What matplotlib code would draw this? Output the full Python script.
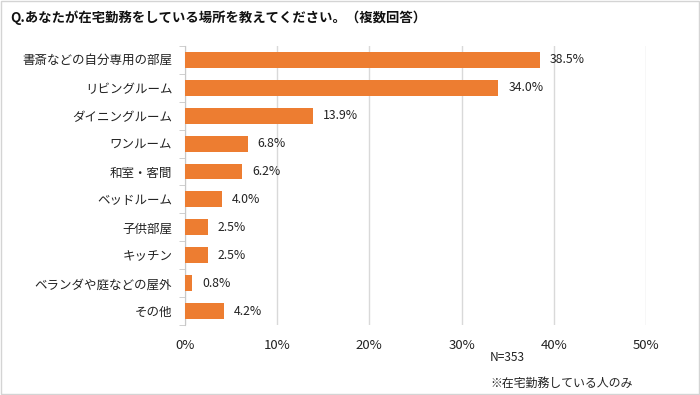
import matplotlib
matplotlib.use("Agg")
import matplotlib.pyplot as plt
from matplotlib.patches import Rectangle

plt.rcParams['font.family'] = ['Noto Sans CJK JP', 'DejaVu Sans']

categories = ["書斎などの自分専用の部屋", "リビングルーム", "ダイニングルーム", "ワンルーム",
              "和室・客間", "ベッドルーム", "子供部屋", "キッチン", "ベランダや庭などの屋外", "その他"]
values = [38.5, 34.0, 13.9, 6.8, 6.2, 4.0, 2.5, 2.5, 0.8, 4.2]
xticks = [0, 10, 20, 30, 40, 50]
xticklabels = ["0%", "10%", "20%", "30%", "40%", "50%"]
title = "Q.あなたが在宅勤務をしている場所を教えてください。（複数回答）"
note_n = "N=353"
note_scope = "※在宅勤務している人のみ"

fig = plt.figure(figsize=(7, 3.95), dpi=100)
fig.patches.append(Rectangle((0.002, 0.003), 0.996, 0.994, transform=fig.transFigure,
                             fill=False, edgecolor='#d4d4d4', linewidth=1.0))

ax = fig.add_axes([0.264, 0.177, 0.659, 0.707])
n = len(categories)
ypos = list(range(n))
ax.barh(ypos, values, height=0.57, color='#ED7D31', zorder=3)
ax.set_ylim(n - 0.5, -0.5)
ax.set_xlim(0, 50)

for y, v in zip(ypos, values):
    ax.text(v + 1.1, y, f"{v:.1f}%", va='center', ha='left', fontsize=8.8, color='#222222')

ax.set_xticks(xticks)
ax.set_xticklabels(xticklabels, fontsize=9.5, color='#222222')
ax.tick_params(axis='x', length=0, pad=10)
ax.set_yticks(ypos)
ax.set_yticklabels(categories, fontsize=9, color='#222222')
ax.set_yticks([i - 0.5 for i in range(n + 1)], minor=True)
ax.tick_params(axis='y', which='major', length=0, pad=9)
ax.tick_params(axis='y', which='minor', length=4, color='#c8c8c8', direction='out')

ax.grid(axis='x', color='#d9d9d9', linewidth=1.0, zorder=0)
for s in ['top', 'right', 'bottom']:
    ax.spines[s].set_visible(False)
ax.spines['left'].set_color('#c8c8c8')

fig.text(0.014, 0.955, title, fontsize=9.6, fontweight='bold', ha='left', va='center', color='#111111')
fig.text(0.70, 0.094, note_n, fontsize=8.6, ha='left', va='center', color='#222222')
fig.text(0.70, 0.030, note_scope, fontsize=8.6, ha='left', va='center', color='#222222')

fig.savefig("out.png", dpi=100)
